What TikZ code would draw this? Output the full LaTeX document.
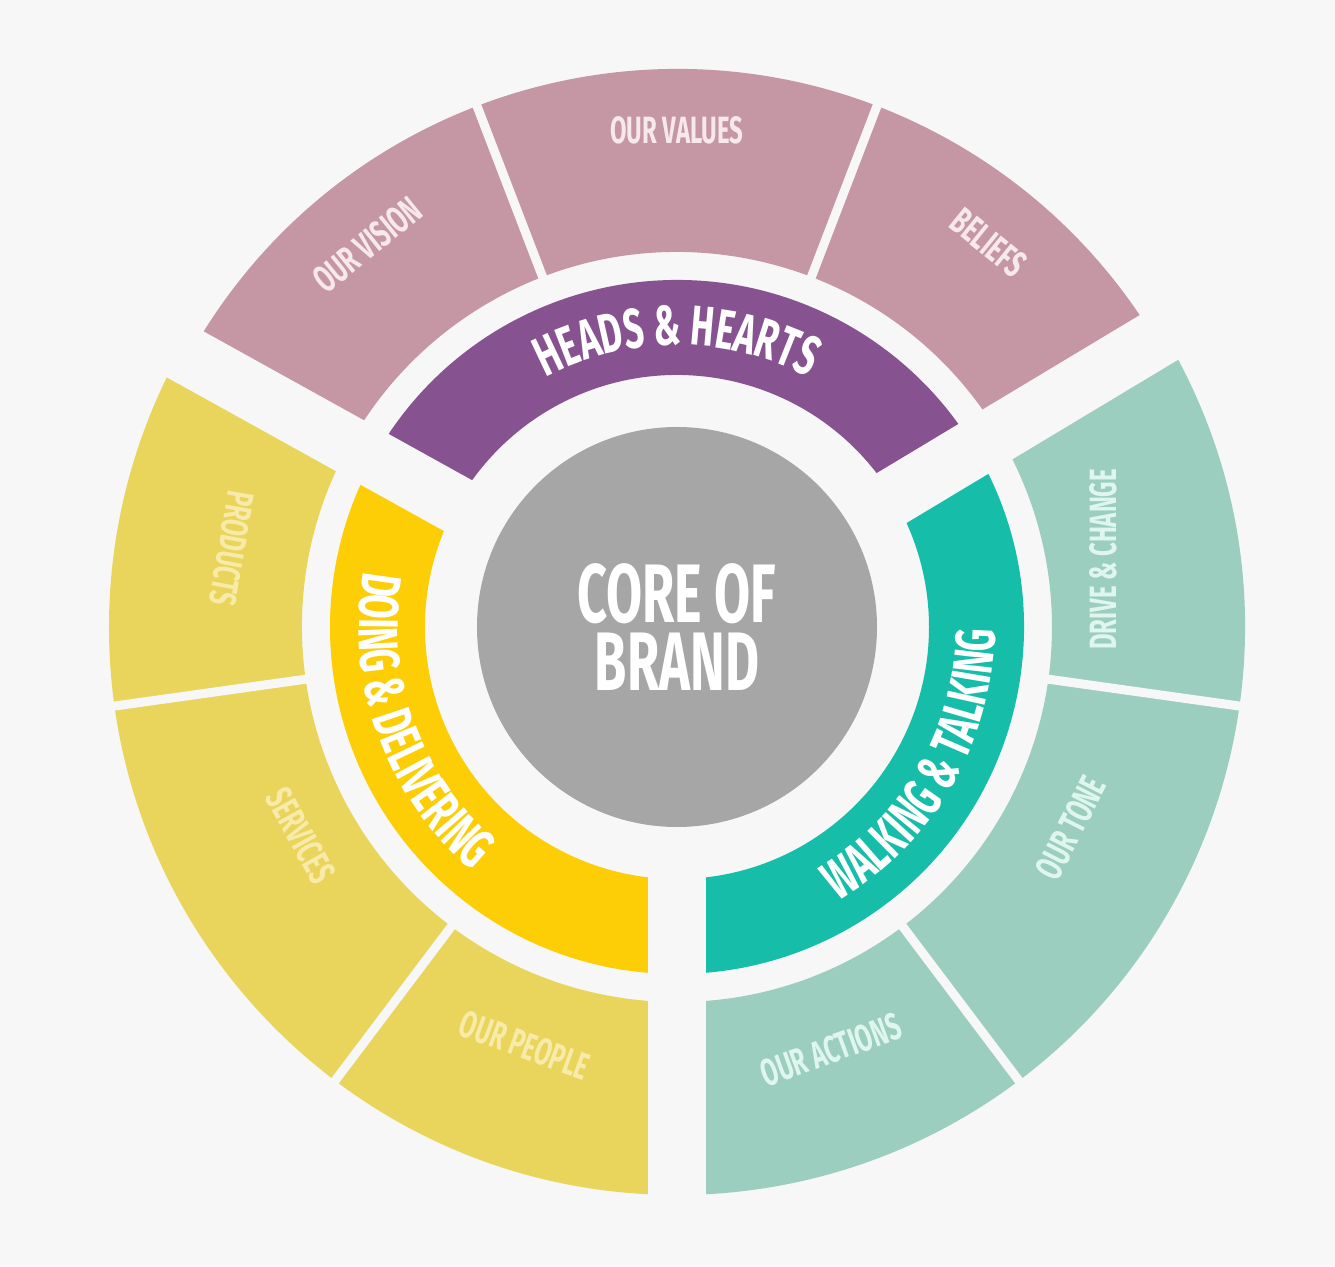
\documentclass[tikz,border=0pt]{standalone}
\usepackage{fontspec}
\usetikzlibrary{decorations.text}
\newfontfamily\brandfont[FakeStretch=0.63]{Fira Sans}

\definecolor{bgcol}{RGB}{247,247,247}
\definecolor{pinkseg}{RGB}{197,150,163}
\definecolor{purpleband}{RGB}{134,82,143}
\definecolor{tealseg}{RGB}{155,206,190}
\definecolor{tealband}{RGB}{22,190,170}
\definecolor{yellowseg}{RGB}{233,213,92}
\definecolor{yellowband}{RGB}{253,205,5}
\definecolor{coregray}{RGB}{166,166,166}
\definecolor{pinktext}{RGB}{246,232,236}
\definecolor{tealtext}{RGB}{222,246,238}
\definecolor{yellowtext}{RGB}{248,234,168}

\newcommand\bandfnt{\brandfont\bfseries\fontsize{56}{56}\selectfont\color{white}}

\tikzset{
  seglabel/.style={font=\brandfont\bfseries\fontsize{38}{38}\selectfont, inner sep=0pt},
  gapline/.style={draw=bgcol, line width=58pt},
  cutline/.style={draw=bgcol, line width=9pt},
  bandtext/.style={decorate, decoration={text along path, text align=center, text={|\bandfnt|#1}}}
}

\begin{document}
\begin{tikzpicture}[x=1pt,y=1pt]
\fill[bgcol] (-677,-639) rectangle (658,627);
\useasboundingbox (-677,-639) rectangle (658,627);

% outer ring
\fill[pinkseg] (30:375) arc (30:150:375) -- (150:558) arc (150:30:558) -- cycle;
\fill[yellowseg] (150:375) arc (150:270:375) -- (270:568) arc (270:150:568) -- cycle;
\fill[tealseg] (270:375) arc (270:390:375) -- (390:568) arc (390:270:568) -- cycle;

% inner bands
\fill[purpleband] (30:252) arc (30:150:252) -- (150:347) arc (150:30:347) -- cycle;
\fill[yellowband] (150:252) arc (150:270:252) -- (270:347) arc (270:150:347) -- cycle;
\fill[tealband] (270:252) arc (270:390:252) -- (390:347) arc (390:270:347) -- cycle;

% gaps between the three parts
\foreach \a in {31,151,270}
  \draw[gapline] (0,0) -- (\a:600);
\foreach \a in {69,111,188,233,307,352}
  \draw[cutline] (\a:365) -- (\a:590);

% core
\node[circle, fill=coregray, minimum size=400pt, inner sep=0pt, align=center, text=white,
      font=\brandfont\bfseries\fontsize{83}{68}\selectfont] (core) at (0,0) {CORE OF\\BRAND};

% band titles
\path[bandtext={HEADS {\&} HEARTS}] (150:282) arc (150:30:282);
\path[bandtext={WALKING {\&} TALKING}] (-95:318) arc (-95:35:318);
\path[bandtext={DOING {\&} DELIVERING}] (135:318) arc (135:265:318);

% segment labels
\node[seglabel, text=pinktext, rotate=39] (vision) at (129:492) {OUR VISION};
\node[seglabel, text=pinktext] (values) at (90:497) {OUR VALUES};
\node[seglabel, text=pinktext, rotate=-39] (beliefs) at (51:495) {BELIEFS};
\node[seglabel, text=tealtext, rotate=90] (drive) at (9:432) {DRIVE \& CHANGE};
\node[seglabel, text=tealtext, rotate=63] (tone) at (-27:442) {OUR TONE};
\node[seglabel, text=tealtext, rotate=20] (actions) at (-70:450) {OUR ACTIONS};
\node[seglabel, text=yellowtext, rotate=-100] (products) at (170:452) {PRODUCTS};
\node[seglabel, text=yellowtext, rotate=-61] (services) at (209:430) {SERVICES};
\node[seglabel, text=yellowtext, rotate=-20] (people) at (250:445) {OUR PEOPLE};
\end{tikzpicture}
\end{document}
